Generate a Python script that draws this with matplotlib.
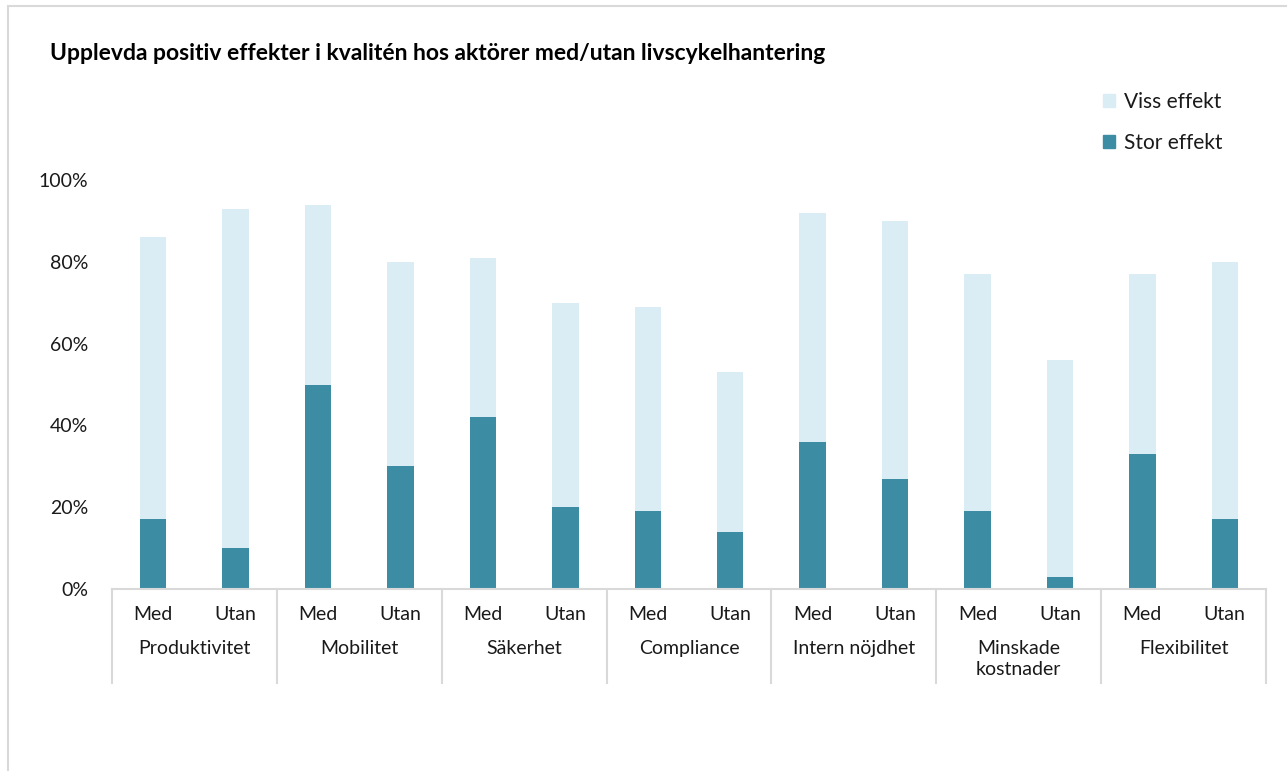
#!/usr/bin/env python3
import matplotlib
matplotlib.use('Agg')
import matplotlib.pyplot as plt
from matplotlib.patches import Rectangle, Patch

groups = ['Produktivitet', 'Mobilitet', 'Säkerhet', 'Compliance',
          'Intern nöjdhet', 'Minskade\nkostnader', 'Flexibilitet']
sub_labels = ['Med', 'Utan']
stor = [17, 10, 50, 30, 42, 20, 19, 14, 36, 27, 19, 3, 33, 17]
viss = [69, 83, 44, 50, 39, 50, 50, 39, 56, 63, 58, 53, 44, 63]
yticks = [0, 20, 40, 60, 80, 100]

DARK = '#3C8CA4'
LIGHT = '#DAEDF5'
GRID = '#D9D9D9'
TXT = '#1a1a1a'

plt.rcParams['font.family'] = ['Lato', 'DejaVu Sans']

W, H = 1287, 771
fig = plt.figure(figsize=(W / 100, H / 100), dpi=100)

# outer frame
fig.patches.append(Rectangle((8 / W, -0.01), 1.5, 1 - 6 / H + 0.01, transform=fig.transFigure,
                             fill=False, edgecolor=GRID, linewidth=1.5))

ax_l, ax_r, ax_b, ax_t = 112, 1266, 589, 180
ax = fig.add_axes([ax_l / W, 1 - ax_b / H, (ax_r - ax_l) / W, (ax_b - ax_t) / H])

x = list(range(len(stor)))
bw = 0.32
ax.bar(x, stor, width=bw, color=DARK, label='Stor effekt')
ax.bar(x, viss, width=bw, bottom=stor, color=LIGHT, label='Viss effekt')

ax.set_xlim(-0.5, len(stor) - 0.5)
ax.set_ylim(0, 100)
ax.set_yticks(yticks)
ax.set_yticklabels([f'{v}%' for v in yticks], fontsize=14, color=TXT)
ax.tick_params(axis='y', length=0, pad=17)
ax.set_xticks(x)
ax.set_xticklabels(sub_labels * len(groups), fontsize=14, color=TXT)
ax.tick_params(axis='x', length=0, pad=12)

for s in ['top', 'right', 'left']:
    ax.spines[s].set_visible(False)
ax.spines['bottom'].set_color(GRID)
ax.spines['bottom'].set_linewidth(1.5)

# group separators and labels
px = 100 / (ax_b - ax_t)
sep_bottom = -(683 - ax_b) * px
for i in range(len(groups) + 1):
    xs = i * 2 - 0.5
    ax.plot([xs, xs], [0, sep_bottom], color=GRID, lw=1.5, clip_on=False)
for i, g in enumerate(groups):
    ax.text(i * 2 + 0.5, -(640 - ax_b) * px, g, ha='center', va='top',
            fontsize=14, color=TXT, linespacing=1.3, clip_on=False)

fig.text(50 / W, 1 - 53 / H,
         'Upplevda positiv effekter i kvalitén hos aktörer med/utan livscykelhantering',
         fontsize=16.5, fontweight='bold', color='black', va='center', ha='left')

handles = [Patch(color=LIGHT), Patch(color=DARK)]
fig.legend(handles, ['Viss effekt', 'Stor effekt'], loc='upper left',
           bbox_to_anchor=(1084 / W, 1 - 73 / H), frameon=False, fontsize=15,
           handlelength=0.6, handleheight=0.6, handletextpad=0.4, labelspacing=1.0,
           labelcolor=TXT)

fig.savefig('out.png', dpi=100)
